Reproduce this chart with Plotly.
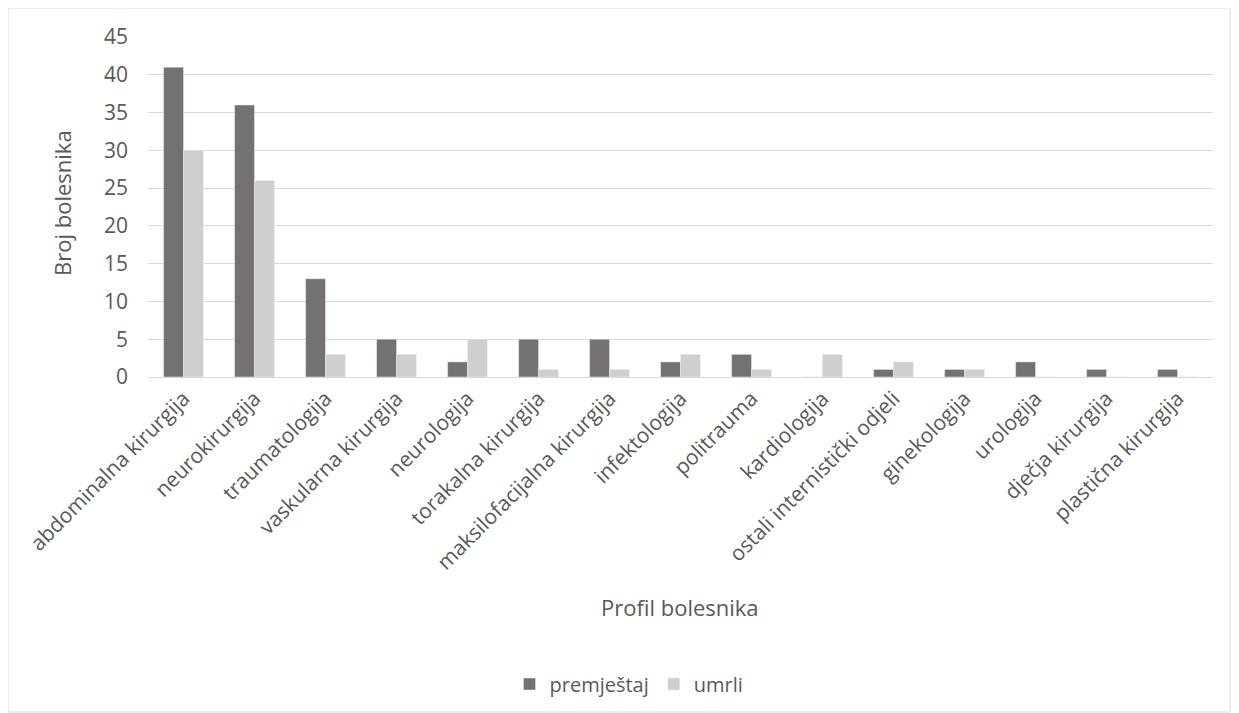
import plotly.graph_objects as go

categories = ["abdominalna kirurgija", "neurokirurgija", "traumatologija", "vaskularna kirurgija",
              "neurologija", "torakalna kirurgija", "maksilofacijalna kirurgija", "infektologija",
              "politrauma", "kardiologija", "ostali internistički odjeli", "ginekologija",
              "urologija", "dječja kirurgija", "plastična kirurgija"]
premjestaj = [41, 36, 13, 5, 2, 5, 5, 2, 3, 0, 1, 1, 2, 1, 1]
umrli = [30, 26, 3, 3, 5, 1, 1, 3, 1, 3, 2, 1, 0, 0, 0]
y_ticks = [0, 5, 10, 15, 20, 25, 30, 35, 40, 45]

FONT = "Open Sans, sans-serif"
TXT = "#595959"

fig = go.Figure()
fig.add_trace(go.Bar(x=categories, y=premjestaj, name="premještaj", marker_color="#767171"))
fig.add_trace(go.Bar(x=categories, y=umrli, name="umrli", marker_color="#D0CECE"))

OFF = 8  # page body offset
W, H = 1239 - OFF, 713 - OFF
L, R, T, B = 140, 26, 29, 336
pw, ph = W - L - R, H - T - B


def px(x):
    return (x - OFF - L) / pw


def py(y):
    return (T + ph - (y - OFF)) / ph


fig.update_layout(
    width=W, height=H,
    margin=dict(l=L, r=R, t=T, b=B, autoexpand=False),
    paper_bgcolor="white", plot_bgcolor="white",
    barmode="group", bargap=0.44, bargroupgap=0,
    font=dict(family=FONT, color=TXT, size=20),
    showlegend=True,
    legend=dict(orientation="h", x=px(629), xanchor="center",
                y=py(684), yanchor="middle",
                font=dict(size=20, color=TXT, family=FONT), itemwidth=30,
                traceorder="normal"),
    xaxis=dict(tickangle=-45, showgrid=False, showline=True, linecolor="#D9D9D9",
               linewidth=1, ticks="", tickfont=dict(size=21, color=TXT), automargin=False),
    yaxis=dict(range=[0, 45], tickvals=y_ticks, showgrid=True, gridcolor="#D9D9D9",
               gridwidth=1, zeroline=False, showline=False, ticks="", ticklabelstandoff=19,
               tickfont=dict(size=21, color=TXT), automargin=False),
    annotations=[
        dict(text="Profil bolesnika", xref="paper", yref="paper",
             x=px(680), y=py(607), xanchor="center", yanchor="middle",
             showarrow=False, font=dict(size=22, color=TXT, family=FONT)),
        dict(text="Broj bolesnika", xref="paper", yref="paper",
             x=px(62), y=py(203), xanchor="center", yanchor="middle", textangle=-90,
             showarrow=False, font=dict(size=22, color=TXT, family=FONT)),
    ],
    shapes=[dict(type="rect", xref="paper", yref="paper",
                 x0=px(8), x1=px(1230),
                 y0=py(712), y1=py(8),
                 line=dict(color="#D9D9D9", width=1), fillcolor="rgba(0,0,0,0)", layer="below")],
)

fig.write_html("out.html")
